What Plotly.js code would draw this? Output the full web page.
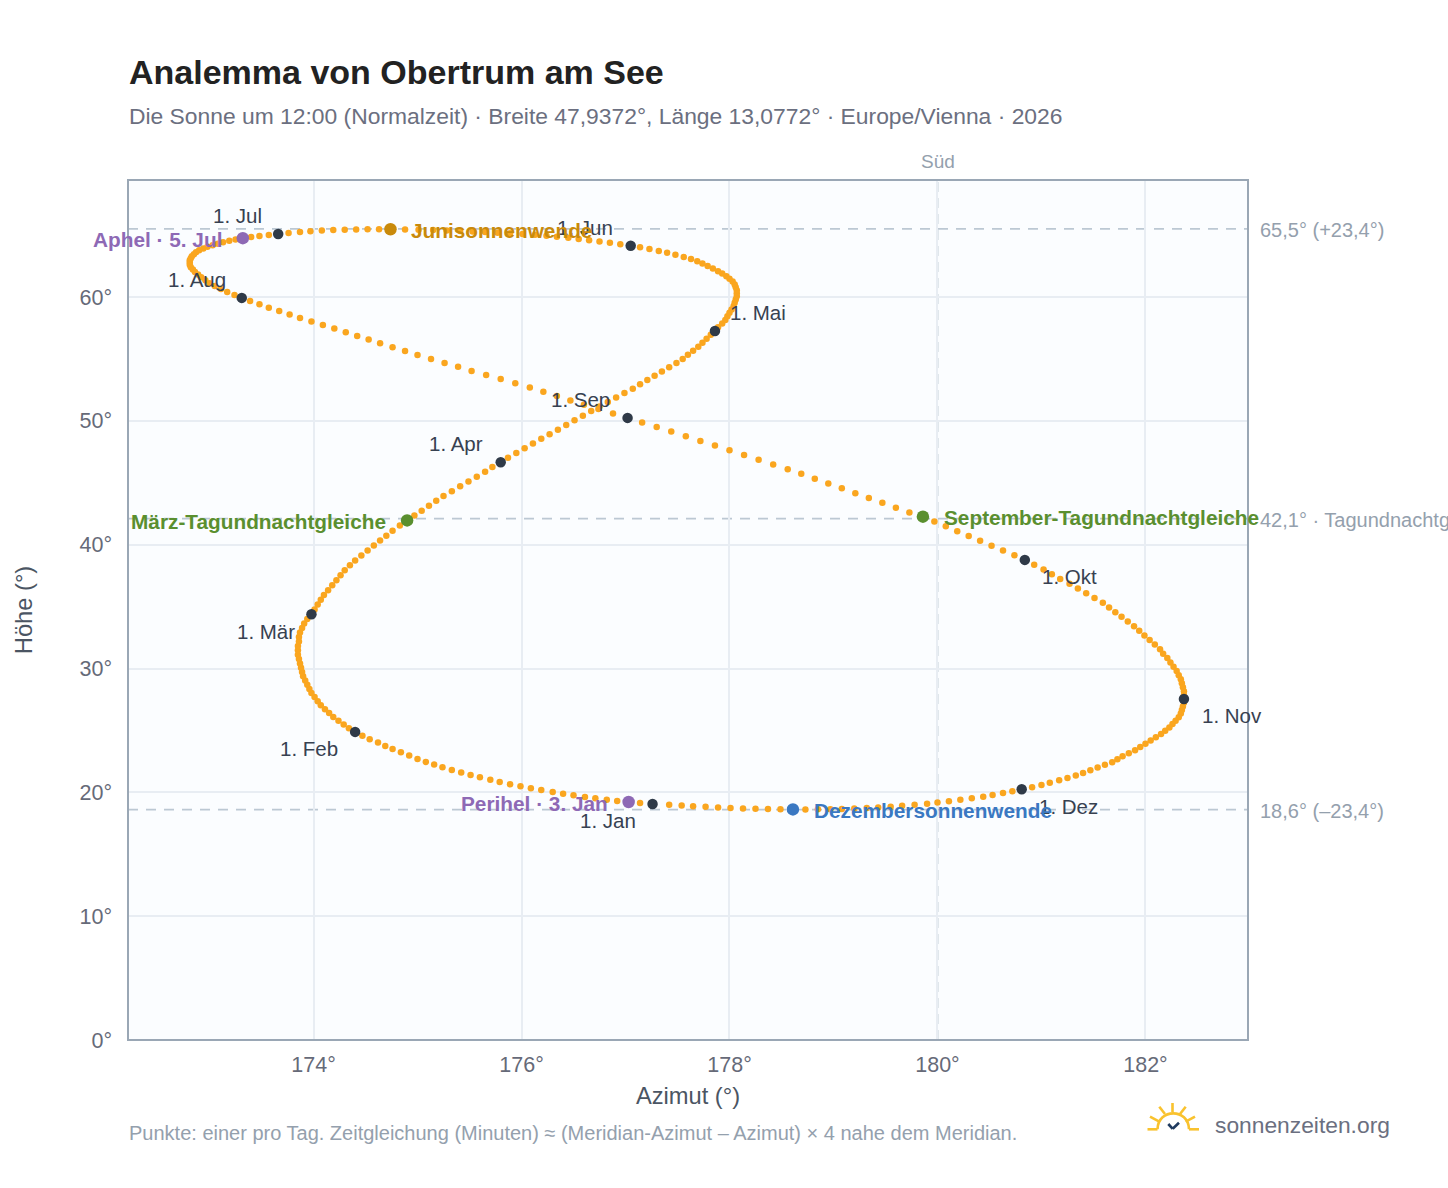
<!DOCTYPE html>
<html><head><meta charset="utf-8">
<script src="https://cdn.plot.ly/plotly-3.0.1.min.js"></script>
<style>html,body{margin:0;padding:0;background:#fff}#chart{width:1448px;height:1188px}</style>
</head><body><div id="chart"></div>
<script>
// Daily noon sun positions: azimuth (deg) and altitude (deg)
const azJan=[177.26,177.14,177.03,176.92,176.82,176.71,176.61,176.50,176.40,176.30,176.19,176.09,175.99,175.89,175.79,175.70,175.60,175.51,175.42,175.33,175.24,175.16,175.08,175.00,174.92,174.84,174.76,174.69,174.62,174.54,174.47];
const altJan=[19.06,19.14,19.22,19.31,19.41,19.52,19.63,19.76,19.89,20.03,20.18,20.33,20.49,20.66,20.84,21.02,21.21,21.40,21.60,21.81,22.02,22.24,22.46,22.69,22.98,23.23,23.49,23.75,24.02,24.29,24.58];
const azFeb=[174.40,174.34,174.29,174.24,174.19,174.15,174.11,174.07,174.04,174.01,173.98,173.96,173.94,173.92,173.90,173.89,173.88,173.87,173.86,173.85,173.85,173.85,173.86,173.86,173.87,173.89,173.91,173.94];
const altFeb=[24.88,25.18,25.48,25.78,26.09,26.40,26.72,27.04,27.36,27.69,28.02,28.35,28.69,29.03,29.37,29.71,30.06,30.41,30.76,31.11,31.47,31.82,32.18,32.54,32.90,33.27,33.63,34.00];
const azMar=[173.98,174.01,174.04,174.07,174.10,174.14,174.18,174.22,174.26,174.30,174.35,174.40,174.46,174.52,174.58,174.64,174.70,174.76,174.83,174.90,174.97,175.04,175.11,175.18,175.25,175.33,175.41,175.49,175.57,175.65,175.72];
const altMar=[34.38,34.77,35.16,35.55,35.94,36.33,36.73,37.13,37.53,37.93,38.33,38.73,39.13,39.53,39.93,40.33,40.73,41.13,41.54,41.96,42.36,42.75,43.15,43.54,43.93,44.32,44.71,45.10,45.49,45.88,46.27];
const azApr=[175.80,175.87,175.95,176.03,176.11,176.19,176.27,176.35,176.43,176.51,176.59,176.67,176.75,176.83,176.91,176.99,177.07,177.14,177.21,177.28,177.35,177.42,177.49,177.55,177.60,177.65,177.70,177.74,177.78,177.82];
const altApr=[46.65,47.03,47.41,47.79,48.17,48.55,48.92,49.29,49.66,50.05,50.42,50.79,51.16,51.52,51.88,52.24,52.60,52.95,53.30,53.65,53.99,54.33,54.67,55.00,55.33,55.66,55.98,56.30,56.62,56.95];
const azMay=[177.86,177.89,177.93,177.96,177.98,178.00,178.02,178.04,178.05,178.06,178.07,178.07,178.07,178.06,178.05,178.03,178.00,177.97,177.93,177.89,177.84,177.79,177.74,177.69,177.63,177.56,177.48,177.40,177.32,177.23,177.14];
const altMay=[57.26,57.56,57.86,58.15,58.44,58.72,59.00,59.27,59.54,59.80,60.06,60.31,60.55,60.79,61.02,61.25,61.47,61.68,61.89,62.09,62.30,62.50,62.70,62.89,63.07,63.24,63.41,63.57,63.72,63.87,64.01];
const azJun=[177.05,176.95,176.85,176.75,176.65,176.55,176.45,176.34,176.24,176.13,176.01,175.89,175.77,175.65,175.53,175.41,175.28,175.15,175.01,174.88,174.74,174.63,174.52,174.41,174.30,174.19,174.08,173.97,173.87,173.76];
const altJun=[64.14,64.26,64.38,64.49,64.59,64.69,64.78,64.87,64.95,65.02,65.08,65.14,65.20,65.25,65.30,65.34,65.38,65.41,65.44,65.46,65.47,65.47,65.47,65.46,65.44,65.41,65.37,65.32,65.26,65.18];
const azJul=[173.66,173.57,173.48,173.40,173.32,173.25,173.19,173.13,173.08,173.03,172.98,172.94,172.90,172.87,172.85,172.83,172.82,172.81,172.81,172.81,172.82,172.84,172.86,172.89,172.92,172.96,173.00,173.05,173.11,173.17,173.24];
const altJul=[65.09,65.01,64.93,64.84,64.75,64.65,64.54,64.43,64.31,64.18,64.05,63.91,63.77,63.62,63.46,63.30,63.13,62.96,62.78,62.60,62.41,62.22,62.02,61.82,61.59,61.36,61.12,60.89,60.65,60.41,60.17];
const azAug=[173.31,173.39,173.48,173.57,173.67,173.77,173.87,173.98,174.09,174.20,174.31,174.42,174.53,174.64,174.76,174.88,175.00,175.13,175.26,175.39,175.52,175.66,175.80,175.94,176.08,176.21,176.34,176.47,176.60,176.74,176.88];
const altAug=[59.93,59.67,59.41,59.14,58.87,58.59,58.31,58.03,57.74,57.45,57.16,56.86,56.56,56.26,55.95,55.64,55.32,55.00,54.68,54.36,54.03,53.70,53.37,53.03,52.69,52.35,52.00,51.65,51.30,50.95,50.60];
const azSep=[177.02,177.16,177.30,177.44,177.58,177.72,177.86,178.00,178.14,178.28,178.42,178.56,178.69,178.82,178.95,179.08,179.21,179.34,179.47,179.60,179.73,179.86,179.97,180.08,180.19,180.30,180.41,180.52,180.63,180.74];
const altSep=[50.24,49.87,49.50,49.13,48.76,48.38,48.00,47.62,47.24,46.86,46.48,46.10,45.72,45.33,44.94,44.55,44.16,43.77,43.38,42.99,42.60,42.26,41.87,41.48,41.09,40.70,40.31,39.92,39.53,39.15];
const azOct=[180.84,180.93,181.02,181.10,181.18,181.27,181.35,181.43,181.51,181.59,181.65,181.71,181.77,181.83,181.89,181.94,181.99,182.04,182.09,182.14,182.17,182.21,182.24,182.27,182.30,182.32,182.34,182.35,182.36,182.37,182.37];
const altOct=[38.77,38.38,37.99,37.61,37.22,36.84,36.46,36.07,35.69,35.31,34.93,34.55,34.17,33.79,33.41,33.04,32.67,32.30,31.93,31.56,31.20,30.84,30.49,30.14,29.80,29.46,29.13,28.80,28.48,28.16,27.85];
const azNov=[182.37,182.37,182.36,182.35,182.34,182.32,182.29,182.26,182.23,182.19,182.15,182.10,182.05,182.00,181.95,181.90,181.84,181.78,181.73,181.68,181.61,181.54,181.47,181.40,181.33,181.25,181.17,181.08,181.00,180.91];
const altNov=[27.54,27.24,26.94,26.65,26.36,26.07,25.79,25.51,25.24,24.97,24.71,24.44,24.18,23.92,23.66,23.40,23.15,22.91,22.67,22.44,22.22,22.00,21.78,21.57,21.36,21.16,20.97,20.78,20.60,20.42];
const azDec=[180.81,180.72,180.63,180.53,180.44,180.33,180.22,180.11,180.00,179.90,179.78,179.66,179.55,179.43,179.32,179.20,179.08,178.97,178.85,178.73,178.61,178.49,178.37,178.25,178.13,178.01,177.89,177.77,177.65,177.54,177.42];
const altDec=[20.25,20.09,19.94,19.79,19.65,19.52,19.40,19.28,19.18,19.08,18.99,18.91,18.84,18.78,18.73,18.69,18.66,18.64,18.63,18.62,18.62,18.63,18.65,18.67,18.70,18.74,18.78,18.83,18.88,18.94,19.00];

const monthAz=[azJan,azFeb,azMar,azApr,azMay,azJun,azJul,azAug,azSep,azOct,azNov,azDec];
const monthAlt=[altJan,altFeb,altMar,altApr,altMay,altJun,altJul,altAug,altSep,altOct,altNov,altDec];
const monthLabels=["1. Jan","1. Feb","1. Mär","1. Apr","1. Mai","1. Jun","1. Jul","1. Aug","1. Sep","1. Okt","1. Nov","1. Dez"];
const monthXShift=[-44.5,-46,-45,-44.5,43.5,-46,-41,-45,-47,45,48.5,47];
const monthYShift=[-17,-17,-17,18.5,18,18,18,18,18,-17,-17,-17];

const eventNames=["März-Tagundnachtgleiche","Junisonnenwende","September-Tagundnachtgleiche","Dezembersonnenwende","Perihel · 3. Jan","Aphel · 5. Jul"];
const eventAz=[azMar[19],azJun[20],azSep[21],azDec[20],azJan[2],azJul[4]];
const eventAlt=[altMar[19],altJun[20],altSep[21],altDec[20],altJan[2],altJul[4]];
const eventColors=["#5a8f2f","#c98a0b","#5a8f2f","#3a78c2","#8e69b5","#8e69b5"];
const eventAnchor=["right","left","left","left","right","right"];

const refAlt=[65.5,18.6];
const equinoxAlt=42.1;
const sideLabels=["65,5° (+23,4°)","42,1° · Tagundnachtgleiche","18,6° (–23,4°)"];
const sideAlt=[65.5,42.1,18.6];
const xTicks=[174,176,178,180,182];
const xTickText=["174°","176°","178°","180°","182°"];
const yTicks=[0,10,20,30,40,50,60];
const yTickText=["0°","10°","20°","30°","40°","50°","60°"];

const FONT='"Liberation Sans", Arial, sans-serif';
const W=1448,H=1188,L=128,R=1248,T=180,B=1040;
const px=x=>(x-L)/(R-L), py=y=>(B-y)/(B-T);

const traces=[
 {type:'scatter',mode:'markers',x:[].concat(...monthAz),y:[].concat(...monthAlt),
  marker:{size:6.5,color:'#faa61f'},hoverinfo:'skip'},
 {type:'scatter',mode:'markers',x:monthAz.map(a=>a[0]),y:monthAlt.map(a=>a[0]),
  marker:{size:10.5,color:'#2f3a48'},hoverinfo:'skip'},
 {type:'scatter',mode:'markers',x:eventAz,y:eventAlt,
  marker:{size:12.5,color:eventColors},hoverinfo:'skip'}
];

const dashLine={color:'#bcc8d3',width:1.8,dash:'10px,8px'};
const shapes=[
 {type:'line',xref:'paper',yref:'y',x0:0,x1:1,y0:refAlt[0],y1:refAlt[0],line:dashLine,layer:'between'},
 {type:'line',xref:'paper',yref:'y',x0:0,x1:1,y0:refAlt[1],y1:refAlt[1],line:dashLine,layer:'between'},
 {type:'line',xref:'paper',yref:'y',x0:0,x1:1,y0:equinoxAlt,y1:equinoxAlt,line:dashLine,layer:'between'},
 {type:'line',xref:'x',yref:'paper',x0:180,x1:180,y0:0,y1:1,line:{color:'#b6c3ce',width:1.8,dash:'10px,6px'},layer:'between'},
 {type:'rect',xref:'paper',yref:'paper',x0:0,x1:1,y0:0,y1:1,line:{color:'#9aa7b5',width:2},layer:'above'}
];
const gold={color:'#f9c22e',width:2.6};
const seg=(a,b,c,d,line)=>({type:'line',xref:'paper',yref:'paper',x0:px(a),x1:px(c),y0:py(b),y1:py(d),line});
shapes.push(
 seg(1147.5,1129.3,1157.5,1129.3,gold),seg(1189,1129.3,1199,1129.3,gold),
 seg(1172.5,1103,1172.5,1112,gold),seg(1159.3,1106.7,1165,1114,gold),seg(1185.7,1106.7,1180,1114,gold),
 seg(1150,1116.7,1159.3,1121.7,gold),seg(1195,1116.7,1185.7,1121.7,gold),
 seg(1168.3,1124,1172.7,1128.8,{color:'#1f3a5f',width:2.6}),seg(1172.7,1128.8,1179,1122.7,{color:'#1f3a5f',width:2.6})
);
// sun arc
shapes.push({type:'path',xref:'paper',yref:'paper',line:gold,
 path:`M ${px(1157.5)} ${py(1129.3)} C ${px(1158)} ${py(1108)}, ${px(1188.5)} ${py(1108)}, ${px(1189)} ${py(1129.3)}`});

const ann=(text,xp,yp,opts)=>Object.assign({text,xref:'paper',yref:'paper',x:px(xp),y:py(yp),showarrow:false,xanchor:'left',yanchor:'middle'},opts);
const annotations=[
 ann('Analemma von Obertrum am See',127,72,{font:{family:FONT,size:34,color:'#222',weight:700}}),
 ann('Die Sonne um 12:00 (Normalzeit) · Breite 47,9372°, Länge 13,0772° · Europe/Vienna · 2026',127,116,{font:{family:FONT,size:22.85,color:'#6b6f80'}}),
 ann('Süd',938,161,{xanchor:'center',font:{family:FONT,size:19,color:'#94a0ad'}}),
 ann('Punkte: einer pro Tag. Zeitgleichung (Minuten) ≈ (Meridian-Azimut – Azimut) × 4 nahe dem Meridian.',127,1133,{font:{family:FONT,size:20,color:'#94a0ad'}}),
 ann('sonnenzeiten.org',1213,1125,{font:{family:FONT,size:22.8,color:'#6b6f80'}})
];
monthLabels.forEach((t,i)=>annotations.push({text:t,x:monthAz[i][0],y:monthAlt[i][0],xref:'x',yref:'y',showarrow:false,
  xanchor:'center',yanchor:'middle',xshift:monthXShift[i],yshift:monthYShift[i],font:{family:FONT,size:20.5,color:'#374151'}}));
eventNames.forEach((t,i)=>annotations.push({text:t,x:eventAz[i],y:eventAlt[i],xref:'x',yref:'y',showarrow:false,
  xanchor:eventAnchor[i],yanchor:'middle',xshift:eventAnchor[i]==='left'?19:-19,yshift:-1,
  font:{family:FONT,size:20.8,color:eventColors[i],weight:700}}));
sideLabels.forEach((t,i)=>annotations.push({text:t,xref:'paper',yref:'y',x:px(1258),y:sideAlt[i],showarrow:false,
  xanchor:'left',yanchor:'middle',yshift:-1,font:{family:FONT,size:20,color:'#94a0ad'}}));

const layout={width:W,height:H,margin:{l:L,r:W-R,t:T,b:H-B,pad:0},
 paper_bgcolor:'#ffffff',plot_bgcolor:'#fbfdff',showlegend:false,hovermode:false,font:{family:FONT},
 xaxis:{range:[172.216,182.986],tickvals:xTicks,ticktext:xTickText,tickfont:{family:FONT,size:21.5,color:'#666a78'},ticklabelstandoff:9,
  gridcolor:'#e8edf3',gridwidth:2,zeroline:false,showline:false,ticks:'',
  title:{text:'Azimut (°)',font:{family:FONT,size:23.7,color:'#4b5563'},standoff:11}},
 yaxis:{range:[0,69.45],tickvals:yTicks,ticktext:yTickText,tickfont:{family:FONT,size:21.5,color:'#666a78'},ticklabelstandoff:15,
  gridcolor:'#e8edf3',gridwidth:2,zeroline:false,showline:false,ticks:'',
  title:{text:'Höhe (°)',font:{family:FONT,size:23.7,color:'#4b5563'},standoff:40}},
 shapes,annotations};
Plotly.newPlot('chart',traces,layout,{displayModeBar:false,staticPlot:true});
</script></body></html>
